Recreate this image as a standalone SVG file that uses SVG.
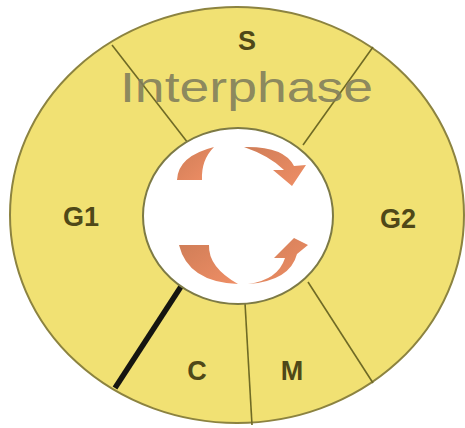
<svg xmlns="http://www.w3.org/2000/svg" width="465" height="428" viewBox="0 0 465 428">
<defs>
<style>
.ring{fill:#f1e173;stroke:#8c8340;stroke-width:2}
.hub{fill:#ffffff;stroke:#7d7a45;stroke-width:2}
.div{stroke:#6f6a25;stroke-width:1.6;fill:none}
.thick{stroke:#151510;stroke-width:5.5;fill:none}
.lbl{font-family:"Liberation Sans",Arial,sans-serif;font-weight:bold;font-size:27px;fill:#4f4818;text-anchor:middle}
.big{font-family:"Liberation Sans",Arial,sans-serif;font-size:43px;fill:#7f7d5c;fill-opacity:0.9}
.arr{fill:url(#og);stroke:none}
</style>
<linearGradient id="og" x1="0" y1="0" x2="1" y2="1">
<stop offset="0" stop-color="#c8673a"/>
<stop offset="1" stop-color="#ec7a4a"/>
</linearGradient>
</defs>
<rect width="465" height="428" fill="#ffffff"/>
<g id="ring">
<ellipse class="ring" cx="237" cy="215" rx="227" ry="208"/>
</g>
<g id="connectors">
<line class="div" x1="112" y1="45" x2="188" y2="143"/>
<line class="div" x1="373" y1="47" x2="303" y2="145"/>
<line class="div" x1="245" y1="303" x2="252" y2="425"/>
<line class="div" x1="308" y1="282" x2="373" y2="383"/>
<line class="thick" x1="182" y1="285" x2="115" y2="388"/>
</g>
<g id="hub">
<ellipse class="hub" cx="238" cy="216" rx="95" ry="88"/>
</g>
<g id="arrows">
<path class="arr" opacity="0.85" d="M177,180 Q178,156 214,147 Q201,160 202,180 Z"/>
<path class="arr" opacity="0.85" d="M244,147 Q284,146 294,166 L306,165 L292,186 L273,170 L284,170 Q270,156 244,147 Z"/>
<path class="arr" opacity="0.85" d="M179,245 L209,245 Q208,267 238,284 Q188,282 179,245 Z"/>
<path class="arr" opacity="0.85" d="M248,284 Q278,280 285,258 L274,258 L294,238 L308,245 L297,254 Q290,281 248,284 Z"/>
</g>
<g id="labels">
<text class="lbl" x="247" y="50">S</text>
<text class="big" x="120" y="102" textLength="253" lengthAdjust="spacingAndGlyphs">Interphase</text>
<text class="lbl" x="81" y="226">G1</text>
<text class="lbl" x="398" y="228">G2</text>
<text class="lbl" x="197" y="380">C</text>
<text class="lbl" x="292" y="380">M</text>
</g>
</svg>
